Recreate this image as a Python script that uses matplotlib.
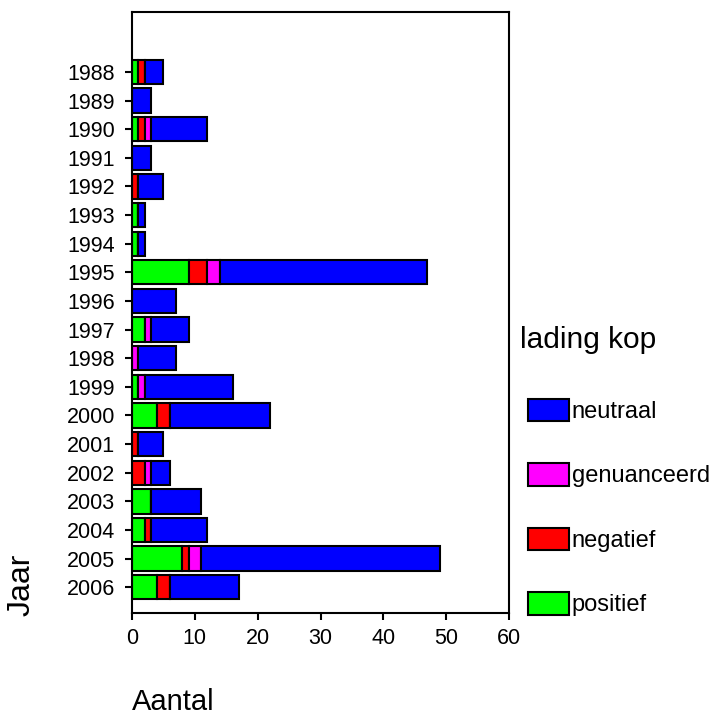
"""Stacked horizontal bars: lading kop per jaar"""

import numpy as np
import matplotlib
matplotlib.use("Agg")
import matplotlib.pyplot as plt

plt.rcParams["font.family"] = ["Liberation Sans", "DejaVu Sans"]
plt.rcParams["axes.linewidth"] = 1.5

years = ["1988", "1989", "1990", "1991", "1992", "1993", "1994", "1995", "1996", "1997",
         "1998", "1999", "2000", "2001", "2002", "2003", "2004", "2005", "2006"]
positief    = [1, 0, 1, 0, 0, 1, 1, 9, 0, 2, 0, 1, 4, 0, 0, 3, 2, 8, 4]
negatief    = [1, 0, 1, 0, 1, 0, 0, 3, 0, 0, 0, 0, 2, 1, 2, 0, 1, 1, 2]
genuanceerd = [0, 0, 1, 0, 0, 0, 0, 2, 0, 1, 1, 1, 0, 0, 1, 0, 0, 2, 0]
neutraal    = [3, 3, 9, 3, 4, 1, 1, 33, 7, 6, 6, 14, 16, 4, 3, 8, 9, 38, 11]

series = [("positief", positief, "#00ff00"),
          ("negatief", negatief, "#ff0000"),
          ("genuanceerd", genuanceerd, "#ff00ff"),
          ("neutraal", neutraal, "#0000ff")]

fig = plt.figure(figsize=(7.12, 7.22), dpi=100)
ax = fig.add_axes([0.1854, 0.151, 0.5295, 0.8326])

y = np.arange(len(years))
left = np.zeros(len(years))
handles = []
for name, vals, col in series:
    vals = np.array(vals, dtype=float)
    h = ax.barh(y, vals, left=left, height=0.85, color=col, edgecolor="black",
                linewidth=1.5, label=name)
    handles.append(h)
    left += vals

ax.set_xlim(0, 60)
ax.set_ylim(18.9, -2.1)
ax.set_yticks(y)
ax.set_yticklabels(years)
ax.set_xticks(range(0, 61, 10))
ax.tick_params(axis="both", labelsize=15.5, width=1.5, length=5, direction="out")
ax.tick_params(axis="y", pad=7)
ax.tick_params(axis="x", pad=6)

fig.text(0.03, 0.19, "Jaar", rotation=90, fontsize=23, ha="center", va="center")
fig.text(0.1854, 0.028, "Aantal", fontsize=21, ha="left", va="center")

# legend title placed on its own, entries below it
fig.text(0.730, 1 - 340 / 722, "lading kop", fontsize=21.5, ha="left", va="center")
ax.legend(handles[::-1], [s[0] for s in series][::-1], loc="upper left",
          bbox_to_anchor=(0.7416, 0.448), bbox_transform=fig.transFigure,
          frameon=False, fontsize=17, handlelength=1.74, handleheight=1.1,
          labelspacing=1.7, handletextpad=0.12, borderaxespad=0.0, borderpad=0.0)

fig.savefig("out.png", dpi=100)
